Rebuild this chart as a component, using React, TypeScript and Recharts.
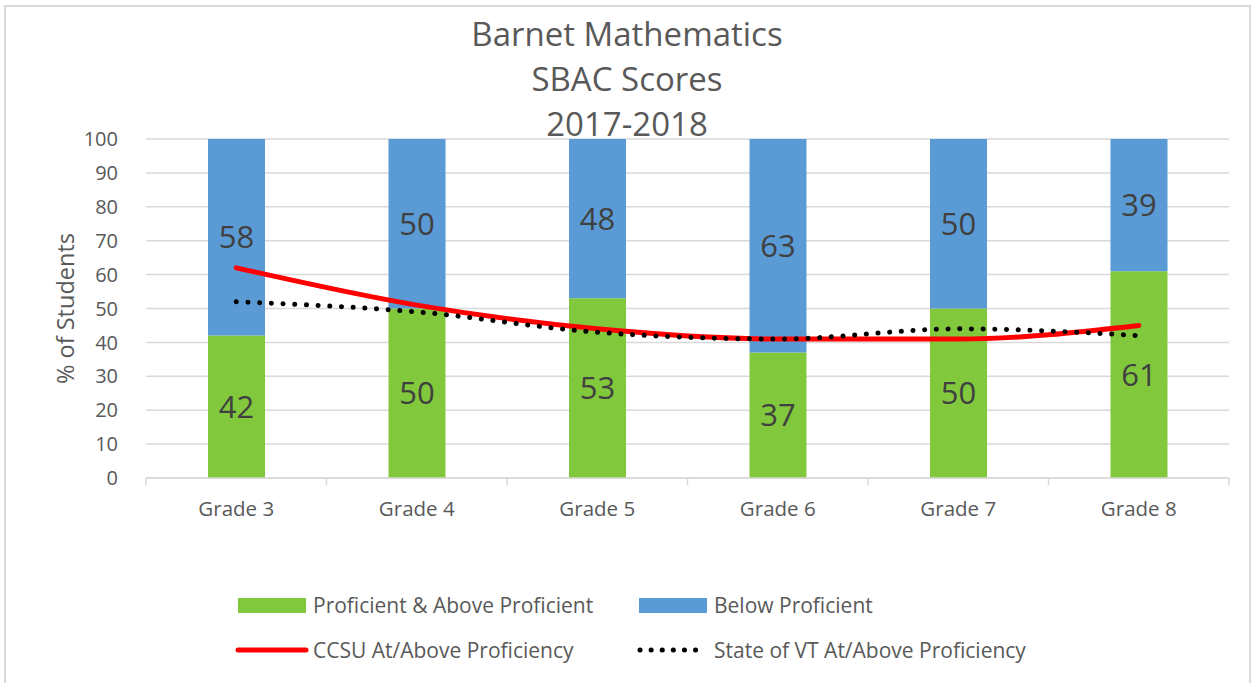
import React from "react";
import { ComposedChart, Bar, Line, XAxis, YAxis, CartesianGrid, LabelList } from "recharts";

const grades = ["Grade 3", "Grade 4", "Grade 5", "Grade 6", "Grade 7", "Grade 8"];
const proficient = [42, 50, 53, 37, 50, 61];
const belowProficient = [58, 50, 48, 63, 50, 39];
const ccsu = [62, 51, 44, 41, 41, 45];
const stateVT = [52, 49, 43, 41, 44, 42];
const yTicks = [0, 10, 20, 30, 40, 50, 60, 70, 80, 90, 100];
const titleLines = ["Barnet Mathematics", "SBAC Scores", "2017-2018"];

const data = grades.map((g, i) => ({
  grade: g,
  proficient: proficient[i],
  below: belowProficient[i],
  ccsu: ccsu[i],
  state: stateVT[i],
}));

const FONT = "'Open Sans', Lato, sans-serif";
const TEXT = "#595959";
const GRID = "#d9d9d9";
const GREEN = "#82C83D";
const BLUE = "#5B9BD5";

const XTick = (props: any) => {
  const { x, y, payload, index } = props;
  const half = 1083 / 6 / 2;
  return (
    <g>
      <line x1={x - half} y1={y - 8} x2={x - half} y2={y - 1} stroke={GRID} strokeWidth={1.5} />
      {index === grades.length - 1 && (
        <line x1={x + half} y1={y - 8} x2={x + half} y2={y - 1} stroke={GRID} strokeWidth={1.5} />
      )}
      <text x={x} y={y + 30} textAnchor="middle" fill={TEXT} fontSize={20.5} fontFamily={FONT}>
        {payload.value}
      </text>
    </g>
  );
};

const legendText: React.CSSProperties = {
  position: "absolute",
  fontSize: 21,
  lineHeight: "28px",
  color: TEXT,
  whiteSpace: "nowrap",
};

export default function App() {
  return (
    <div
      style={{
        position: "absolute",
        left: 0,
        top: 0,
        width: 1254,
        height: 683,
        overflow: "hidden",
        background: "#fff",
        fontFamily: FONT,
      }}
    >
      <div
        style={{
          position: "absolute",
          left: 4,
          top: 5,
          width: 1247,
          height: 700,
          border: `2px solid ${GRID}`,
          boxSizing: "border-box",
        }}
      />
      {titleLines.map((t, i) => (
        <div
          key={t}
          style={{
            position: "absolute",
            left: 0,
            width: 1254,
            top: 34 + i * 45 - 22,
            height: 44,
            lineHeight: "44px",
            textAlign: "center",
            fontSize: 33,
            color: TEXT,
          }}
        >
          {t}
        </div>
      ))}
      <div style={{ position: "absolute", left: 0, top: 0 }}>
        <ComposedChart
          width={1254}
          height={683}
          data={data}
          margin={{ top: 139, right: 25, bottom: 165, left: 86 }}
        >
          <CartesianGrid vertical={false} stroke={GRID} strokeWidth={1.5} />
          <XAxis
            dataKey="grade"
            height={40}
            axisLine={{ stroke: GRID, strokeWidth: 1.5 }}
            tickLine={false}
            tick={<XTick />}
            interval={0}
          />
          <YAxis
            width={60}
            domain={[0, 100]}
            ticks={yTicks}
            allowDataOverflow
            axisLine={false}
            tickLine={false}
            tick={{ fill: TEXT, fontSize: 20, fontFamily: FONT }}
            tickMargin={22}
            label={{
              value: "% of Students",
              angle: -90,
              position: "insideLeft",
              offset: -20,
              style: { fill: TEXT, fontSize: 23.5, fontFamily: FONT, textAnchor: "middle" },
            }}
          />
          <Bar dataKey="proficient" stackId="a" fill={GREEN} barSize={57} isAnimationActive={false}>
            <LabelList dataKey="proficient" position="center" fill="#404040" fontSize={31} fontFamily={FONT} />
          </Bar>
          <Bar dataKey="below" stackId="a" fill={BLUE} barSize={57} isAnimationActive={false}>
            <LabelList dataKey="below" position="center" fill="#404040" fontSize={31} fontFamily={FONT} />
          </Bar>
          <Line
            dataKey="ccsu"
            type="monotone"
            stroke="#FF0000"
            strokeWidth={5}
            strokeLinecap="round"
            dot={false}
            activeDot={false}
            isAnimationActive={false}
          />
          <Line
            dataKey="state"
            type="monotone"
            stroke="#000000"
            strokeWidth={5}
            strokeDasharray="0.1 11.6"
            strokeLinecap="round"
            dot={false}
            activeDot={false}
            isAnimationActive={false}
          />
        </ComposedChart>
      </div>
      {/* Legend */}
      <div style={{ position: "absolute", left: 238, top: 598, width: 68, height: 15, background: GREEN }} />
      <div style={{ ...legendText, left: 313, top: 591 }}>Proficient &amp; Above Proficient</div>
      <div style={{ position: "absolute", left: 639, top: 598, width: 68, height: 15, background: BLUE }} />
      <div style={{ ...legendText, left: 714, top: 591 }}>Below Proficient</div>
      <svg style={{ position: "absolute", left: 230, top: 640 }} width={84} height={20}>
        <line x1={8} y1={10} x2={76} y2={10} stroke="#FF0000" strokeWidth={5} strokeLinecap="round" />
      </svg>
      <div style={{ ...legendText, left: 313, top: 636 }}>CCSU At/Above Proficiency</div>
      <svg style={{ position: "absolute", left: 630, top: 640 }} width={84} height={20}>
        <line x1={10} y1={10} x2={76} y2={10} stroke="#000" strokeWidth={5} strokeDasharray="0.1 11" strokeLinecap="round" />
      </svg>
      <div style={{ ...legendText, left: 714, top: 636 }}>State of VT At/Above Proficiency</div>
    </div>
  );
}
